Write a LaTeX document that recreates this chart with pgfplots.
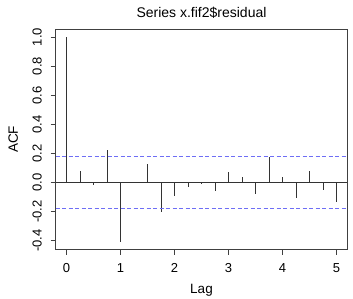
\documentclass[border=0pt]{standalone}
\usepackage{fontspec}
\setmainfont{Liberation Sans}
\usepackage{pgfplots}
\pgfplotsset{compat=1.18}
\definecolor{ciblue}{RGB}{110,110,245}
\begin{document}
\begin{tikzpicture}
\useasboundingbox (-55.7pt,-49pt) rectangle (297.3pt,249.7pt);
\begin{axis}[
  scale only axis, width=291.6pt, height=220.7pt,
  xmin=-0.2, xmax=5.2, ymin=-0.463, ymax=1.056,
  axis line style={black!75, line width=0.7pt},
  xtick={0,1,2,3,4,5},
  ytick={-0.4,-0.2,0,0.2,0.4,0.6,0.8,1.0},
  yticklabels={-0.4,-0.2,0.0,0.2,0.4,0.6,0.8,1.0},
  xtick pos=bottom, ytick pos=left,
  tick align=outside, major tick length=5pt,
  tick style={black!75, line width=0.7pt},
  /pgf/number format/assume math mode=true,
  xticklabel style={font=\fontsize{13}{15}\selectfont, anchor=base, yshift=-18pt},
  yticklabel style={font=\fontsize{13}{15}\selectfont, xshift=-9pt, rotate=90, anchor=base},
  every axis title/.style={at={(axis description cs:0.5,1)}, anchor=base, yshift=11.5pt, font=\fontsize{14}{16}\selectfont},
  title={Series x.fif2\$residual},
  every axis x label/.style={at={(axis description cs:0.5,0)}, anchor=base, yshift=-44pt, font=\fontsize{13.5}{16}\selectfont},
  every axis y label/.style={at={(axis description cs:0,0.5)}, xshift=-37.7pt, rotate=90, anchor=base, font=\fontsize{13.5}{16}\selectfont},
  xlabel={Lag}, ylabel={ACF},
]
\addplot[ycomb, black!80, line width=0.75pt, mark=none] coordinates {
 (0,1.0) (0.25,0.078) (0.5,-0.018) (0.75,0.22) (1.0,-0.407) (1.25,-0.007)
 (1.5,0.126) (1.75,-0.206) (2.0,-0.096) (2.25,-0.03) (2.5,-0.011) (2.75,-0.06)
 (3.0,0.071) (3.25,0.039) (3.5,-0.082) (3.75,0.172) (4.0,0.039) (4.25,-0.11)
 (4.5,0.082) (4.75,-0.05) (5.0,-0.135)
};
\addplot[black!80, line width=0.75pt] coordinates {(-0.2,0) (5.2,0)};
\addplot[ciblue, line width=0.8pt, dash pattern=on 4pt off 2.5pt] coordinates {(-0.2,0.178) (5.2,0.178)};
\addplot[ciblue, line width=0.8pt, dash pattern=on 4pt off 2.5pt] coordinates {(-0.2,-0.178) (5.2,-0.178)};
\end{axis}
\end{tikzpicture}
\end{document}
